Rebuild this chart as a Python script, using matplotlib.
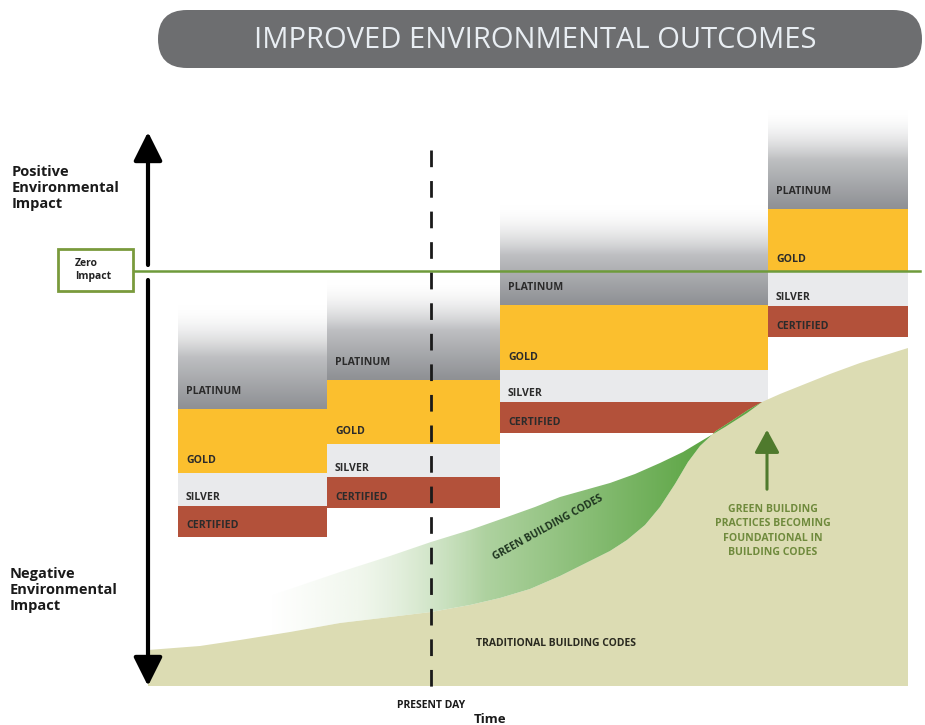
import numpy as np
import matplotlib
matplotlib.use("Agg")
from matplotlib import pyplot as plt
from matplotlib.patches import Rectangle, FancyBboxPatch, Polygon

plt.rcParams['font.family'] = ['Open Sans', 'DejaVu Sans']

# Уровни сертификации по колонкам (пиксельные координаты схемы)
tiers = ["PLATINUM", "GOLD", "SILVER", "CERTIFIED"]
tier_colors = ["#8e9094", "#fbbf2e", "#e9eaec", "#b3513a"]
block_left = [178, 327, 500, 768]
block_right = [327, 500, 768, 908]
fade_top = [305, 280, 205, 110]
plat_bottom = [409, 380, 305, 209]
gold_bottom = [473, 444, 370, 272]
silver_bottom = [506, 477, 402, 306]
cert_bottom = [537, 508, 433, 337]
label_offset = [18, 13, 9, 11]

# Традиционные нормы (верхняя граница бежевой области)
trad_x = [148, 200, 240, 290, 340, 390, 431, 470, 500, 530, 560, 590, 610, 627, 645, 660, 675,
          688, 700, 716, 733, 748, 762, 780, 800, 830, 860, 908]
trad_y = [650, 646, 640, 632, 623, 617, 612, 605, 598, 589, 576, 561, 551, 540, 525, 507, 484,
          462, 446, 431, 420, 410, 402, 394, 386, 374, 363, 348]
n_green = 23  # сколько точек бежевой границы лежит под зелёной полосой
# Зелёные нормы (верхняя граница зелёной полосы)
green_x = [148, 200, 240, 290, 340, 390, 431, 470, 507, 535, 560, 585, 610, 635, 660, 683, 703,
           725, 747, 762]
green_y = [638, 620, 606, 589, 572, 556, 542, 530, 517, 507, 497, 490, 483, 474, 463, 452, 440,
           427, 413, 402]

zero_y = 271
present_x = 431
axis_x = 148
axis_y = 686

fig = plt.figure(figsize=(9.25, 7.25), dpi=100)
ax = fig.add_axes([0, 0, 1, 1])
ax.set_xlim(0, 925)
ax.set_ylim(725, 0)
ax.axis('off')

# Заголовок
ax.add_patch(FancyBboxPatch((158, 10), 764, 58, boxstyle="round,pad=0,rounding_size=29",
                            facecolor="#6d6e70", edgecolor="none", zorder=1))
ax.text(535, 40, "IMPROVED ENVIRONMENTAL OUTCOMES", ha='center', va='center',
        fontsize=21, color="#e9eef3", zorder=2)

# Колонки сертификации
grad = np.linspace(0, 1, 256)
gray_rgb = np.array(matplotlib.colors.to_rgb(tier_colors[0]))
for i in range(len(block_left)):
    x0, x1 = block_left[i], block_right[i]
    img = np.ones((256, 1, 4))
    t = grad ** 0.8
    img[:, 0, :3] = (1 - t[:, None]) * 1.0 + t[:, None] * gray_rgb
    img[:, 0, 3] = np.clip(grad * 2.0, 0, 1)
    ax.imshow(img, extent=(x0, x1, plat_bottom[i], fade_top[i]), aspect='auto',
              interpolation='bilinear', zorder=2)
    bounds = [plat_bottom[i], gold_bottom[i], silver_bottom[i], cert_bottom[i]]
    tops = [None, plat_bottom[i], gold_bottom[i], silver_bottom[i]]
    for j in range(1, 4):
        ax.add_patch(Rectangle((x0, tops[j]), x1 - x0, bounds[j] - tops[j],
                               facecolor=tier_colors[j], edgecolor='none', zorder=2))
    for j in range(4):
        ax.text(x0 + 8, bounds[j] - label_offset[j], tiers[j], fontsize=7.6,
                fontweight='bold', color="#2b2b2b", ha='left', va='center', zorder=3)

# Бежевая область — традиционные нормы
trad_poly = list(zip(trad_x, trad_y)) + [(908, axis_y), (148, axis_y)]
ax.add_patch(Polygon(trad_poly, closed=True, facecolor="#dcdcb3", edgecolor='none', zorder=4))

# Зелёная полоса с градиентом
green_poly = list(zip(green_x, green_y)) + list(zip(trad_x[:n_green][::-1], trad_y[:n_green][::-1]))
gpatch = Polygon(green_poly, closed=True, facecolor='none', edgecolor='none', zorder=5)
ax.add_patch(gpatch)
gx = np.linspace(0, 1, 512)
gimg = np.ones((1, 512, 4))
light = np.array(matplotlib.colors.to_rgb("#dcebd3"))
dark = np.array(matplotlib.colors.to_rgb("#5ea646"))
mix = np.clip((gx - 0.35) / 0.55, 0, 1)
gimg[0, :, :3] = (1 - mix[:, None]) * light + mix[:, None] * dark
gimg[0, :, 3] = np.clip((gx - 0.2) / 0.35, 0, 1)
gim = ax.imshow(gimg, extent=(148, 762, 650, 400), aspect='auto', interpolation='bilinear', zorder=5)
gim.set_clip_path(gpatch)

ax.text(548, 528, "GREEN BUILDING CODES", rotation=29, fontsize=7.5, fontweight='bold',
        color="#1f3520", ha='center', va='center', zorder=6)
ax.text(556, 643, "TRADITIONAL BUILDING CODES", fontsize=7.5, fontweight='bold',
        color="#2a2a20", ha='center', va='center', zorder=6)

# Стрелка и подпись о зелёных практиках
ax.annotate('', xy=(767, 427), xytext=(767, 492),
            arrowprops=dict(arrowstyle='-|>,head_length=0.7,head_width=0.38', mutation_scale=20,
                            lw=2.2, color="#4f7a2d"), zorder=6)
ax.text(773, 531, "GREEN BUILDING\nPRACTICES BECOMING\nFOUNDATIONAL IN\nBUILDING CODES",
        fontsize=7.6, fontweight='bold', color="#6f8a3c", ha='center', va='center',
        linespacing=1.38, zorder=6)

# Линия нулевого воздействия
ax.plot([133, 920], [zero_y, zero_y], color="#6e9b3b", lw=1.8, zorder=7)
ax.add_patch(Rectangle((58, 249), 75, 42, facecolor='white', edgecolor="#7a9a3c", lw=2, zorder=7))
ax.text(75, 270, "Zero\nImpact", fontsize=7.5, fontweight='bold', color="#222222",
        ha='left', va='center', linespacing=1.15, zorder=8)

# Настоящее время
ax.plot([present_x, present_x], [150, 697], color="#1a1a1a", lw=2, dashes=(6, 5), zorder=8)
ax.text(present_x, 706, "PRESENT DAY", fontsize=7.5, fontweight='bold', color="#1a1a1a",
        ha='center', va='center', zorder=8)
ax.text(490, 713, "Time", fontsize=9.5, fontweight='bold', color="#1a1a1a",
        ha='center', va='top', zorder=8)

# Оси
arrow_kw = dict(arrowstyle='-|>,head_length=0.8,head_width=0.4', mutation_scale=22,
                lw=3, color='black', shrinkA=0, shrinkB=0)
ax.annotate('', xy=(axis_x, 132), xytext=(axis_x, 265), arrowprops=arrow_kw, zorder=9)
ax.annotate('', xy=(axis_x, 686), xytext=(axis_x, 280), arrowprops=arrow_kw, zorder=9)
ax.annotate('', xy=(926, axis_y), xytext=(155, axis_y), arrowprops=arrow_kw, zorder=9)

ax.text(12, 188, "Positive\nEnvironmental\nImpact", fontsize=10.5, fontweight='bold',
        color="#1a1a1a", ha='left', va='center', linespacing=1.15)
ax.text(10, 590, "Negative\nEnvironmental\nImpact", fontsize=10.5, fontweight='bold',
        color="#1a1a1a", ha='left', va='center', linespacing=1.15)

fig.savefig("out.png", dpi=100)
